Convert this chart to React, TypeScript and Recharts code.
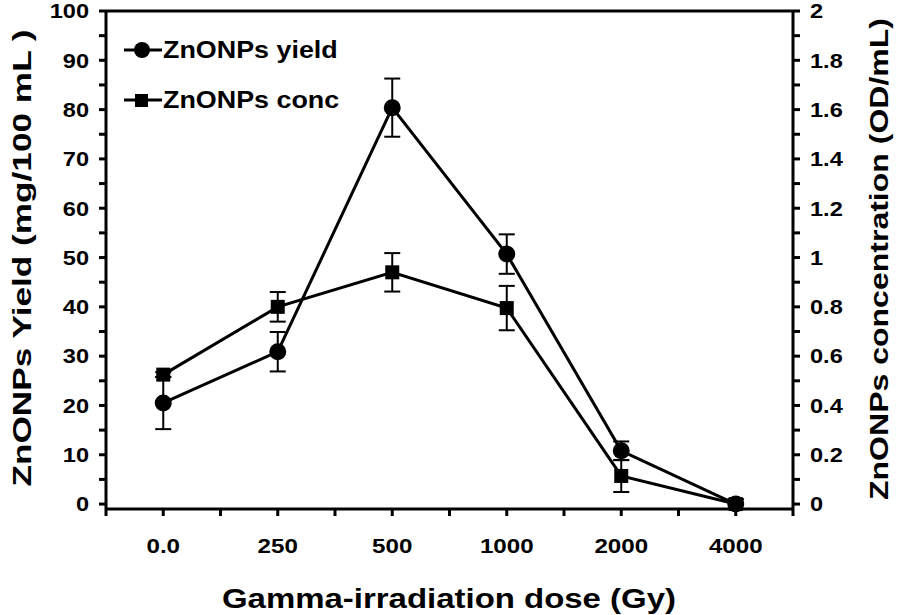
import React from 'react';
import {
  ComposedChart,
  Line,
  XAxis,
  YAxis,
  ErrorBar,
  ReferenceLine,
  Legend,
} from 'recharts';

// dose categories on the x axis
const doseLabels = ['0.0', '250', '500', '1000', '2000', '4000'];
// ZnONPs yield (mg/100 mL), left axis
const yieldValues = [20.5, 30.9, 80.4, 50.7, 10.8, 0];
const yieldErrors = [5.3, 4.0, 5.9, 4.0, 1.9, 1.0];
// ZnONPs concentration (OD/mL), right axis
const concValues = [0.525, 0.8, 0.94, 0.795, 0.114, 0];
const concErrors = [0.01, 0.06, 0.078, 0.09, 0.065, 0.02];

const leftTicks = Array.from({ length: 21 }, (_, i) => i * 5);
const rightTicks = Array.from({ length: 21 }, (_, i) => i / 10);
const xTicks = Array.from({ length: 13 }, (_, i) => i);

// each dose sits in the middle of its slot, slot edges get a plain tick
const chartData = doseLabels.map((dose, i) => ({
  pos: i * 2 + 1,
  dose,
  yield: yieldValues[i],
  yieldErr: yieldErrors[i],
  conc: concValues[i],
  concErr: concErrors[i],
}));

const FONT = '"Liberation Sans", Arial, sans-serif';
const STRETCH = 1.15; // the original lettering is a bit wider than Arial
const axisLine = { stroke: '#000', strokeWidth: 3 };

const fmtX = (v: number) => (v % 2 === 1 ? doseLabels[(v - 1) / 2] : '');
const fmtLeft = (v: number) => (v % 10 === 0 ? String(v) : '');
const fmtRight = (v: number) => (Math.round(v * 10) % 2 === 0 ? String(Math.round(v * 10) / 10) : '');

const makeTick = (fmt: (v: number) => string, dy: string, size: number) => (props: any) => {
  const { x, y, payload, textAnchor, index } = props;
  const text = fmt(payload.value);
  if (!text) return <g key={`t-${index}`} />;
  return (
    <text
      key={`t-${index}`}
      transform={`translate(${x},${y}) scale(${STRETCH},1)`}
      x={0}
      y={0}
      dy={dy}
      textAnchor={textAnchor}
      fill="#000"
      fontSize={size}
      fontWeight="bold"
      fontFamily={FONT}
    >
      {text}
    </text>
  );
};

const AxisTitle = ({ tx, ty, rot, fs, len, title }: any) => (
  <text
    x={tx}
    y={ty}
    transform={rot ? `rotate(${rot} ${tx} ${ty})` : undefined}
    textAnchor="middle"
    dominantBaseline="central"
    textLength={len}
    lengthAdjust="spacingAndGlyphs"
    fill="#000"
    fontSize={fs}
    fontWeight="bold"
    fontFamily={FONT}
  >
    {title}
  </text>
);

const SquareDot = (props: any) => {
  const { cx, cy, index } = props;
  if (cx == null || cy == null) return <g key={`sq-${index}`} />;
  return <rect key={`sq-${index}`} x={cx - 7} y={cy - 7} width={14} height={14} fill="#000" />;
};

const LegendBox = () => {
  const row = { display: 'flex', alignItems: 'center', height: 50 } as const;
  const label = {
    display: 'inline-block',
    transform: 'scaleX(1.12)',
    transformOrigin: 'left center',
  } as const;
  return (
    <div style={{ fontFamily: FONT, fontWeight: 'bold', fontSize: 24, color: '#000', whiteSpace: 'nowrap' }}>
      <div style={row}>
        <svg width={38} height={20} style={{ marginRight: 1 }}>
          <line x1={0} y1={10} x2={38} y2={10} stroke="#000" strokeWidth={3} />
          <circle cx={18} cy={10} r={8} fill="#000" />
        </svg>
        <span style={label}>ZnONPs yield</span>
      </div>
      <div style={row}>
        <svg width={38} height={20} style={{ marginRight: 1 }}>
          <line x1={0} y1={10} x2={38} y2={10} stroke="#000" strokeWidth={3} />
          <rect x={11} y={4} width={13} height={13} fill="#000" />
        </svg>
        <span style={label}>ZnONPs conc</span>
      </div>
    </div>
  );
};

export default function App() {
  return (
    <div style={{ position: 'absolute', left: 0, top: 0, width: 897, height: 615, background: '#fff' }}>
      <ComposedChart
        width={897}
        height={615}
        data={chartData}
        margin={{ top: 11, right: 0, bottom: 0, left: 0 }}
      >
        <XAxis
          dataKey="pos"
          type="number"
          domain={[0, 12]}
          ticks={xTicks}
          interval={0}
          height={106}
          axisLine={axisLine}
          tickLine={axisLine}
          tickSize={7}
          tickMargin={22}
          tick={makeTick(fmtX, '0.71em', 21)}
          label={<AxisTitle tx={449} ty={598} rot={0} fs={28} len={454} title="Gamma-irradiation dose (Gy)" />}
        />
        <YAxis
          yAxisId="left"
          domain={[0, 100]}
          ticks={leftTicks}
          interval={0}
          width={106}
          axisLine={axisLine}
          tickLine={axisLine}
          tickSize={7}
          tickMargin={10}
          tick={makeTick(fmtLeft, '0.355em', 20.5)}
          label={<AxisTitle tx={22} ty={258} rot={-90} fs={26} len={457} title="ZnONPs Yield (mg/100 mL )" />}
        />
        <YAxis
          yAxisId="right"
          orientation="right"
          domain={[0, 2]}
          ticks={rightTicks}
          interval={0}
          width={104}
          axisLine={axisLine}
          tickLine={axisLine}
          tickSize={7}
          tickMargin={10}
          tick={makeTick(fmtRight, '0.355em', 20.5)}
          label={<AxisTitle tx={879} ty={259} rot={-90} fs={25} len={482} title="ZnONPs concentration (OD/mL)" />}
        />
        <ReferenceLine yAxisId="left" y={100} stroke="#000" strokeWidth={3} />
        <Legend
          layout="vertical"
          align="center"
          verticalAlign="middle"
          content={<LegendBox />}
          wrapperStyle={{ left: 124, top: 25, width: 260 }}
        />
        <Line
          yAxisId="left"
          dataKey="yield"
          type="linear"
          stroke="#000"
          strokeWidth={3}
          dot={{ r: 8.5, fill: '#000', stroke: '#000', strokeWidth: 0 }}
          activeDot={false}
          isAnimationActive={false}
        >
          <ErrorBar dataKey="yieldErr" direction="y" width={8} stroke="#000" strokeWidth={2} />
        </Line>
        <Line
          yAxisId="right"
          dataKey="conc"
          type="linear"
          stroke="#000"
          strokeWidth={3}
          dot={<SquareDot />}
          activeDot={false}
          isAnimationActive={false}
        >
          <ErrorBar dataKey="concErr" direction="y" width={8} stroke="#000" strokeWidth={2} />
        </Line>
      </ComposedChart>
    </div>
  );
}
